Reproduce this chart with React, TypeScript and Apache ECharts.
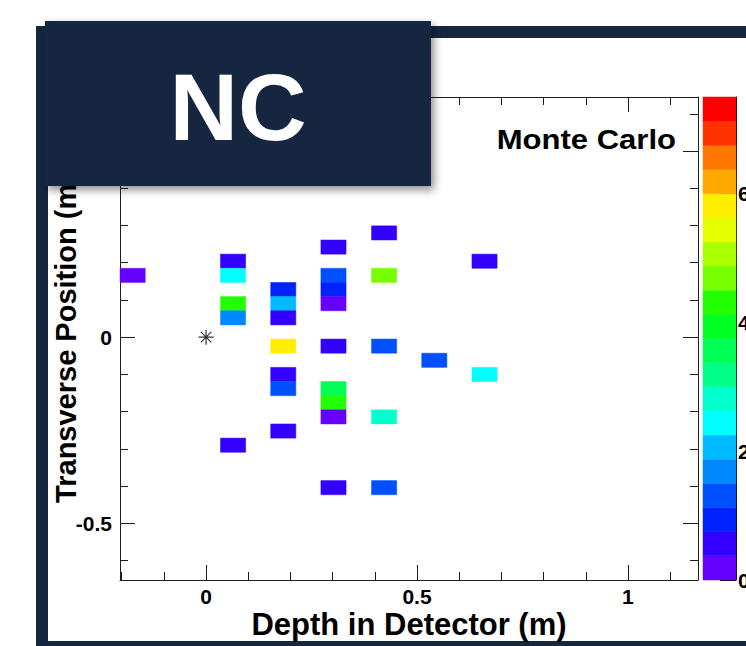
import { useEffect, useRef } from "react";
import * as echarts from "echarts";

// Axis ranges (metres) of the event display
const depthRange = [-0.204, 1.166];
const transverseRange = [-0.652, 0.645];

// Cell size of one detector hit (depth x transverse, metres)
const CELL_DEPTH = 0.0596;
const CELL_TRANSVERSE = 0.038;

// Hits: depth, transverse position and deposited energy
const hitDepth = [
  -0.174,
  0.064, 0.064, 0.064, 0.064, 0.064,
  0.183, 0.183, 0.183, 0.183, 0.183, 0.183, 0.183,
  0.302, 0.302, 0.302, 0.302, 0.302, 0.302, 0.302, 0.302, 0.302,
  0.422, 0.422, 0.422, 0.422, 0.422,
  0.541,
  0.66, 0.66,
];
const hitTransverse = [
  0.166,
  0.204, 0.166, 0.09, 0.052, -0.29,
  0.128, 0.09, 0.052, -0.024, -0.1, -0.138, -0.252,
  0.242, 0.166, 0.128, 0.09, -0.024, -0.138, -0.176, -0.214, -0.404,
  0.28, 0.166, -0.024, -0.214, -0.404,
  -0.062,
  0.204, -0.1,
];
const hitEnergy = [
  0.2,
  0.6, 2.4, 4.3, 1.7, 0.6,
  0.9, 2.0, 0.6, 5.8, 0.6, 1.3, 0.6,
  0.6, 1.3, 0.9, 0.2, 0.6, 3.5, 4.3, 0.2, 0.6,
  0.6, 4.7, 1.3, 2.8, 1.3,
  1.3,
  0.6, 2.4,
];

// Reconstructed vertex
const vertex = [0, 0];

// Stepped rainbow palette, 20 bins from 0 to paletteMax
const paletteColors = [
  "#6600ff", "#3300ff", "#0022ff", "#0050ff", "#0088ff",
  "#00bbff", "#00ffff", "#00ffcc", "#00ff88", "#00ff55",
  "#00ff22", "#22ff00", "#77ff00", "#aaff00", "#e6ff00",
  "#ffee00", "#ffaa00", "#ff7700", "#ff3300", "#ff0000",
];
const paletteMax = 7.5;

// Tick positions
const depthMajorTicks = [0, 0.5, 1];
const depthMinorTicks = [-0.2, -0.1, 0.1, 0.2, 0.3, 0.4, 0.6, 0.7, 0.8, 0.9, 1.1];
const transverseMajorTicks = [-0.5, 0, 0.5];
const transverseMinorTicks = [-0.6, -0.4, -0.3, -0.2, -0.1, 0.1, 0.2, 0.3, 0.4, 0.6];
const energyTicks = [0, 2, 4, 6];

const NAVY = "#13273f";
const AXIS = "#1e1e1e";
const FONT = "'Liberation Sans', Arial, Helvetica, sans-serif";

function frameAxis(
  position: string,
  range: number[],
  ticks: number[],
  tickLength: number,
  showLine: boolean,
  extra: Record<string, unknown> = {}
) {
  return {
    type: "value",
    gridIndex: 0,
    position,
    min: range[0],
    max: range[1],
    axisLine: { show: showLine, onZero: false, lineStyle: { color: AXIS, width: 1 } },
    axisTick: {
      show: true,
      inside: true,
      length: tickLength,
      customValues: ticks,
      lineStyle: { color: AXIS, width: 1 },
    },
    axisLabel: { show: false },
    splitLine: { show: false },
    ...extra,
  };
}

export default function App() {
  const ref = useRef<HTMLDivElement>(null);

  useEffect(() => {
    if (!ref.current) return;
    const chart = echarts.init(ref.current, null, { renderer: "svg" });

    const pieceStep = paletteMax / paletteColors.length;
    const pieces = paletteColors.map((color, i) => ({
      gte: i * pieceStep,
      lt: (i + 1) * pieceStep,
      color,
    }));

    const hits = hitDepth.map((d, i) => [d, hitTransverse[i], hitEnergy[i]]);
    const paletteBins = paletteColors.map((_, i) => [i * pieceStep, (i + 1) * pieceStep, i]);

    const labelStyle = (size: number) => ({
      fontFamily: FONT,
      fontWeight: "bold",
      fontSize: size,
      color: "#000",
    });

    const option = {
      animation: false,
      grid: [
        { left: 120, top: 97, width: 578, height: 483, containLabel: false, outerBoundsMode: "none" },
        { left: 703, top: 97, width: 33, height: 483, containLabel: false, outerBoundsMode: "none" },
      ],
      xAxis: [
        frameAxis("bottom", depthRange, depthMajorTicks, 15, true, {
          axisLabel: {
            show: true,
            customValues: depthMajorTicks,
            margin: 6,
            formatter: (v: number) => String(v),
            ...labelStyle(21),
          },
          name: "Depth in Detector (m)",
          nameLocation: "middle",
          nameGap: 29,
          nameMoveOverlap: false,
          nameTextStyle: { ...labelStyle(31), verticalAlign: "top" },
        }),
        frameAxis("bottom", depthRange, depthMinorTicks, 8, false),
        frameAxis("top", depthRange, depthMajorTicks, 15, true),
        frameAxis("top", depthRange, depthMinorTicks, 8, false),
        {
          type: "value",
          gridIndex: 1,
          min: 0,
          max: 1,
          show: false,
        },
      ],
      yAxis: [
        frameAxis("left", transverseRange, transverseMajorTicks, 15, true, {
          axisLabel: {
            show: true,
            customValues: transverseMajorTicks,
            margin: 8,
            formatter: (v: number) => String(v),
            ...labelStyle(21),
          },
          name: "Transverse Position (m)",
          nameLocation: "middle",
          nameRotate: 90,
          nameGap: 40,
          nameMoveOverlap: false,
          nameTextStyle: labelStyle(29),
        }),
        frameAxis("left", transverseRange, transverseMinorTicks, 8, false),
        frameAxis("right", transverseRange, transverseMajorTicks, 15, true),
        frameAxis("right", transverseRange, transverseMinorTicks, 8, false),
        {
          type: "value",
          gridIndex: 1,
          position: "right",
          min: 0,
          max: paletteMax,
          axisLine: { show: true, onZero: false, lineStyle: { color: "#000", width: 1 } },
          axisTick: {
            show: true,
            inside: true,
            length: 16,
            customValues: energyTicks,
            lineStyle: { color: "#000", width: 1 },
          },
          axisLabel: {
            show: true,
            customValues: energyTicks,
            margin: 2,
            formatter: (v: number) => String(v),
            ...labelStyle(21),
          },
          splitLine: { show: false },
        },
      ],
      visualMap: {
        type: "piecewise",
        show: false,
        seriesIndex: 0,
        dimension: 2,
        pieces,
      },
      series: [
        {
          type: "custom",
          name: "hits",
          xAxisIndex: 0,
          yAxisIndex: 0,
          data: hits,
          renderItem: (_params: unknown, api: any) => {
            const x = api.value(0);
            const y = api.value(1);
            const a = api.coord([x - CELL_DEPTH / 2, y + CELL_TRANSVERSE / 2]);
            const b = api.coord([x + CELL_DEPTH / 2, y - CELL_TRANSVERSE / 2]);
            const color = api.visual("color");
            return {
              type: "rect",
              shape: { x: a[0], y: a[1], width: b[0] - a[0], height: b[1] - a[1] },
              style: { fill: color, stroke: color, lineWidth: 0.5 },
            };
          },
        },
        {
          type: "scatter",
          name: "vertex",
          xAxisIndex: 0,
          yAxisIndex: 0,
          data: [vertex],
          symbol: "path://M0,-1L0,1M-1,0L1,0M-0.7,-0.7L0.7,0.7M-0.7,0.7L0.7,-0.7",
          symbolSize: 15,
          itemStyle: { color: "rgba(0,0,0,0)", borderColor: "#000", borderWidth: 1.2 },
          z: 5,
        },
        {
          type: "custom",
          name: "palette",
          xAxisIndex: 4,
          yAxisIndex: 4,
          data: paletteBins,
          renderItem: (_params: unknown, api: any) => {
            const lo = api.value(0);
            const hi = api.value(1);
            const a = api.coord([0, hi]);
            const b = api.coord([1, lo]);
            const color = paletteColors[api.value(2)];
            return {
              type: "rect",
              shape: { x: a[0], y: a[1], width: b[0] - a[0], height: b[1] - a[1] },
              style: { fill: color, stroke: color, lineWidth: 0.5 },
            };
          },
        },
      ],
      graphic: [
        {
          type: "rect",
          z: -20,
          silent: true,
          shape: { x: 36, y: 26, width: 720, height: 630 },
          style: { fill: NAVY },
        },
        {
          type: "rect",
          z: -19,
          silent: true,
          shape: { x: 48, y: 38, width: 710, height: 603 },
          style: { fill: "#ffffff" },
        },
        {
          type: "text",
          z: 10,
          x: 676,
          y: 140,
          scaleX: 1.15,
          style: {
            text: "Monte Carlo",
            fill: "#000",
            font: `bold 27px ${FONT}`,
            textAlign: "right",
            textVerticalAlign: "middle",
          },
        },
        {
          type: "rect",
          z: 50,
          silent: true,
          shape: { x: 45, y: 21, width: 386, height: 165 },
          style: {
            fill: NAVY,
            shadowBlur: 8,
            shadowOffsetX: 3,
            shadowOffsetY: 4,
            shadowColor: "rgba(0,0,0,0.45)",
          },
        },
        {
          type: "text",
          z: 51,
          x: 238,
          y: 107,
          style: {
            text: "NC",
            fill: "#ffffff",
            font: `bold 95px ${FONT}`,
            textAlign: "center",
            textVerticalAlign: "middle",
          },
        },
      ],
    };

    chart.setOption(option as any);
    return () => chart.dispose();
  }, []);

  return (
    <div
      ref={ref}
      style={{ position: "fixed", left: 0, top: 0, width: 746, height: 646, background: "#ffffff" }}
    />
  );
}
